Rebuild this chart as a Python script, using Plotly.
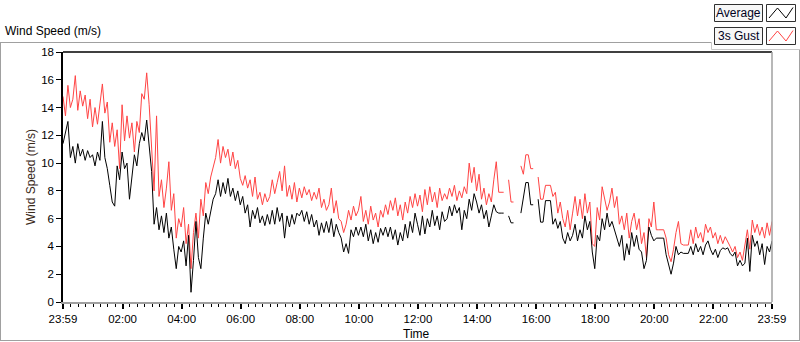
import plotly.graph_objects as go
import pandas as pd

# ---- data (5-minute samples, 23:59 -> 23:59) ----
times = pd.date_range("2024-01-01 23:59", periods=289, freq="5min")

gust = [
    14.8, 13.4, 15.6, 14.0, 14.6, 16.3, 13.8, 15.2, 14.1, 14.9, 13.2, 14.6,
    12.6, 14.0, 12.8, 14.5, 15.7, 13.6, 14.4, 11.5, 12.9, 11.2, 12.4, 9.6,
    14.2, 11.6, 13.4, 11.8, 12.9, 10.8, 13.0, 12.2, 15.0, 14.6, 16.5, 14.2,
    10.6, 8.0, 13.4, 7.6, 8.8, 6.8, 8.2, 10.1, 6.6, 7.8, 4.6, 6.0,
    5.4, 6.8, 4.2, 5.6, 2.4, 5.0, 6.4, 4.6, 7.4, 6.2, 8.6, 7.8,
    9.0, 9.8, 10.4, 11.7, 10.0, 11.2, 10.4, 11.0, 9.8, 10.8, 9.6, 10.2,
    8.9, 8.4, 9.1, 8.2, 8.8, 7.6, 9.0, 7.4, 7.9, 7.0, 7.8, 7.2,
    7.6, 8.8, 7.8, 8.6, 9.4, 8.0, 9.8, 7.6, 8.4, 7.4, 8.6, 7.2,
    8.2, 7.5, 8.3, 7.7, 8.1, 7.3, 7.9, 7.4, 8.2, 6.8, 7.4, 6.6,
    7.0, 8.2, 6.4, 7.3, 6.0, 5.8, 5.0, 5.6, 6.6, 5.9, 6.9, 6.2,
    6.6, 7.6, 5.8, 6.6, 5.6, 6.9, 5.9, 6.4, 5.4, 6.6, 6.1, 7.0,
    6.3, 7.3, 6.6, 7.5, 6.2, 7.0, 5.9, 7.2, 6.4, 7.6, 6.8, 7.8,
    6.9, 7.7, 6.5, 8.1, 7.0, 8.3, 7.2, 7.9, 6.8, 8.2, 7.3, 7.8,
    7.4, 8.2, 7.6, 8.4, 7.3, 8.0, 7.5, 8.3, 7.8, 10.0, 8.6, 9.7,
    8.0, 9.2, 7.4, 8.2, 7.0, 7.8, 7.2, 8.8, 10.1, 7.9, 7.9, 7.9,
    None, 8.8, 7.2, 7.2, None, None, 9.8, 9.2, 10.6, 10.6, 9.6, 9.6,
    None, 9.0, 7.4, 7.4, 8.4, 8.4, 8.4, 7.6, 7.9, 6.4, 7.2, 6.0,
    5.4, 6.6, 5.2, 6.4, 7.6, 6.2, 7.4, 6.0, 7.8, 6.4, 7.2, 4.2,
    4.0, 6.8, 5.9, 8.3, 7.4, 6.6, 7.2, 8.2, 6.8, 7.6, 5.6, 6.2,
    5.2, 6.4, 4.6, 5.8, 6.4, 5.2, 6.0, 4.2, 5.0, 3.2, 6.0, 5.4,
    7.2, 5.2, 5.2, 5.2, 5.2, 4.6, 3.4, 2.9, 3.8, 5.0, 5.8, 4.2,
    4.1, 4.1, 4.1, 5.2, 4.2, 5.4, 4.6, 5.0, 4.3, 5.6, 5.0, 5.4,
    4.6, 5.0, 4.2, 4.8, 4.2, 4.7, 4.4, 4.0, 3.6, 4.0, 3.2, 3.6,
    3.0, 4.2, 5.2, 3.8, 5.9, 5.0, 5.6, 4.8, 5.4, 4.6, 5.7, 4.8,
    5.8,
]

average = [
    11.4, 12.2, 13.0, 10.4, 11.2, 10.0, 11.4, 10.5, 11.0, 10.2, 10.9, 10.4,
    10.6, 9.8, 10.8, 10.2, 13.0, 10.4, 9.6, 8.4, 7.2, 6.9, 9.8, 8.8,
    10.8, 9.6, 10.0, 7.4, 8.8, 10.6, 9.8, 11.4, 12.2, 11.6, 13.1, 11.0,
    9.4, 5.6, 6.8, 5.2, 6.2, 5.0, 6.4, 4.6, 5.4, 3.8, 2.4, 4.0,
    3.6, 4.4, 2.6, 4.8, 0.7, 3.0, 5.8, 3.2, 2.4, 4.6, 6.4, 5.6,
    6.6, 7.4, 7.8, 8.8, 7.6, 8.6, 7.8, 8.9, 7.6, 8.2, 7.3, 8.0,
    7.0, 7.6, 6.4, 7.0, 5.4, 6.6, 6.0, 6.8, 5.7, 6.2, 5.5, 6.3,
    5.6, 6.6, 5.6, 6.8, 5.8, 6.4, 4.6, 6.2, 5.4, 6.3, 5.6, 6.4,
    6.2, 6.6, 5.8, 6.5, 5.6, 6.3, 5.4, 5.9, 4.8, 5.7, 5.0, 5.8,
    5.0, 6.0, 4.7, 5.6, 5.0, 4.6, 3.6, 4.2, 3.5, 5.2, 4.7, 5.4,
    4.8, 5.4, 4.7, 5.6, 4.4, 5.2, 4.2, 5.0, 4.3, 5.3, 4.8, 5.4,
    4.7, 5.4, 4.5, 5.2, 4.1, 5.0, 4.4, 5.6, 4.6, 5.8, 5.0, 6.4,
    5.6, 4.8, 6.2, 4.9, 6.0, 5.4, 6.6, 5.5, 6.2, 5.2, 6.5, 5.8,
    6.0, 6.9, 6.2, 7.0, 6.4, 6.8, 5.2, 6.6, 6.0, 7.4, 6.6, 7.8,
    7.2, 6.4, 7.0, 6.0, 6.6, 5.4, 6.2, 7.0, 6.5, 6.4, 6.4, 6.4,
    None, 6.2, 5.7, 5.7, None, None, 6.4, 7.6, 8.6, 8.6, 7.0, 7.0,
    None, 7.4, 5.75, 5.75, 7.3, 7.3, 7.3, 5.6, 6.0, 5.3, 5.8, 4.6,
    4.2, 5.0, 4.4, 4.8, 5.6, 4.4, 5.2, 4.6, 6.2, 5.2, 5.8, 3.6,
    2.4, 4.8, 4.4, 6.0, 5.2, 6.4, 5.4, 5.8, 5.2, 4.6, 4.0, 4.8,
    3.0, 4.2, 3.4, 5.0, 4.0, 4.8, 3.8, 3.6, 2.4, 3.0, 5.4, 4.8,
    4.4, 4.6, 4.6, 4.6, 4.6, 3.4, 2.6, 2.0, 2.8, 4.0, 3.4, 3.6,
    3.5, 3.5, 3.5, 4.0, 3.4, 4.2, 3.6, 4.0, 3.4, 4.1, 4.4, 3.8,
    3.4, 3.8, 3.2, 3.7, 3.9, 3.8, 3.9, 3.5, 3.3, 3.6, 2.6, 3.0,
    2.6, 2.8, 4.6, 2.2, 4.8, 4.0, 4.4, 3.4, 4.2, 2.7, 4.0, 3.6,
    4.4,
]

tick_vals = [
    "2024-01-01 23:59", "2024-01-02 02:00", "2024-01-02 04:00", "2024-01-02 06:00",
    "2024-01-02 08:00", "2024-01-02 10:00", "2024-01-02 12:00", "2024-01-02 14:00",
    "2024-01-02 16:00", "2024-01-02 18:00", "2024-01-02 20:00", "2024-01-02 22:00",
    "2024-01-02 23:59",
]
tick_text = ["23:59", "02:00", "04:00", "06:00", "08:00", "10:00", "12:00",
             "14:00", "16:00", "18:00", "20:00", "22:00", "23:59"]
series_names = ["Average", "3s Gust"]

# ---- layout geometry (pixels) ----
W, H = 800, 342
L, R, T, B = 63, 772, 52, 302


def px(x):
    return (x - L) / (R - L)


def py(y):
    return (B - y) / (B - T)


FONT = "Liberation Sans, Arial, sans-serif"
RED = "#ff4444"
GRAY = "#a0a0a0"

fig = go.Figure()
fig.add_trace(go.Scatter(x=times, y=gust, mode="lines", name=series_names[1],
                         line=dict(color=RED, width=1), connectgaps=False))
fig.add_trace(go.Scatter(x=times, y=average, mode="lines", name=series_names[0],
                         line=dict(color="#000000", width=1), connectgaps=False))

shapes = []


def line(x0, y0, x1, y1, color, width=1):
    shapes.append(dict(type="line", xref="paper", yref="paper",
                       x0=px(x0), y0=py(y0), x1=px(x1), y1=py(y1),
                       line=dict(color=color, width=width), layer="above"))


def rect(x0, y0, x1, y1, border, fill):
    shapes.append(dict(type="rect", xref="paper", yref="paper",
                       x0=px(x0), y0=py(y0), x1=px(x1), y1=py(y1),
                       line=dict(color=border, width=1), fillcolor=fill, layer="above"))


# outer frame
line(0.5, 42.5, 0.5, 340.5, GRAY)
line(0, 340.5, 800, 340.5, GRAY)
line(799.5, 49.5, 799.5, 340.5, GRAY)
line(0, 42.5, 711.5, 42.5, GRAY)
line(711.5, 42.5, 711.5, 49.5, "#c8c8c8")
line(711.5, 49.5, 800, 49.5, "#c8c8c8")
# plot border top / right
line(L, T, R, T, "#000000", 1.5)
line(R, T, R, B, GRAY, 1.5)

# legend boxes
for k, (yy, col) in enumerate([(4, "#000000"), (27, RED)]):
    rect(714.5, yy + 0.5, 762.5, yy + 17.5, "#303030", "#f7f7f7")
    rect(766.5, yy + 0.5, 795.5, yy + 17.5, "#303030", "#ffffff")
    pts = [(769, yy + 14), (777.5, yy + 4), (786, yy + 14), (793, yy + 3.5)]
    path = "M " + " L ".join(f"{px(a)},{py(b)}" for a, b in pts)
    shapes.append(dict(type="path", xref="paper", yref="paper", path=path,
                       line=dict(color=col, width=1), layer="above"))

annotations = [
    dict(text="Wind Speed (m/s)", x=px(3), y=py(31), xref="paper", yref="paper",
         xanchor="left", yanchor="middle", showarrow=False,
         font=dict(family=FONT, size=12, color="#000000")),
    dict(text="Wind Speed (m/s)", x=px(31), y=py(177), xref="paper", yref="paper",
         xanchor="center", yanchor="middle", showarrow=False, textangle=-90,
         font=dict(family=FONT, size=12, color="#3a2a1a")),
    dict(text="Time", x=px(416), y=py(334), xref="paper", yref="paper",
         xanchor="center", yanchor="middle", showarrow=False,
         font=dict(family=FONT, size=12, color="#000000")),
    dict(text=series_names[0], x=px(738.5), y=py(13), xref="paper", yref="paper",
         xanchor="center", yanchor="middle", showarrow=False,
         font=dict(family=FONT, size=12, color="#000020")),
    dict(text=series_names[1], x=px(738.5), y=py(36), xref="paper", yref="paper",
         xanchor="center", yanchor="middle", showarrow=False,
         font=dict(family=FONT, size=12, color="#000020")),
]

fig.update_layout(
    width=W, height=H,
    margin=dict(l=L, r=W - R, t=T, b=H - B),
    paper_bgcolor="#ffffff", plot_bgcolor="#ffffff",
    showlegend=False,
    shapes=shapes, annotations=annotations,
    font=dict(family=FONT, size=11.5, color="#000000"),
    xaxis=dict(
        type="date", range=[tick_vals[0], tick_vals[-1]],
        tickmode="array", tickvals=tick_vals, ticktext=tick_text,
        ticks="outside", ticklen=5, tickwidth=1.5, tickcolor="#000000",
        showline=True, linecolor=GRAY, linewidth=1.5,
        showgrid=False, zeroline=False,
        tickfont=dict(family=FONT, size=11.5, color="#000000"),
        minor=dict(ticks="outside", ticklen=3, tickcolor="#000000", tickwidth=1,
                   dtick=15 * 60 * 1000, tick0="2024-01-02 00:00", showgrid=False),
    ),
    yaxis=dict(
        range=[0, 18], dtick=2, tick0=0,
        ticks="outside", ticklen=5, tickcolor="#000000",
        showline=True, linecolor="#000000", linewidth=1.5,
        showgrid=False, zeroline=False,
        tickfont=dict(family=FONT, size=11.5, color="#000000"),
    ),
)

fig.write_html(
    "out.html",
    config={"displayModeBar": False},
    post_script="document.body.style.margin='0px';document.body.style.overflow='hidden';",
)
